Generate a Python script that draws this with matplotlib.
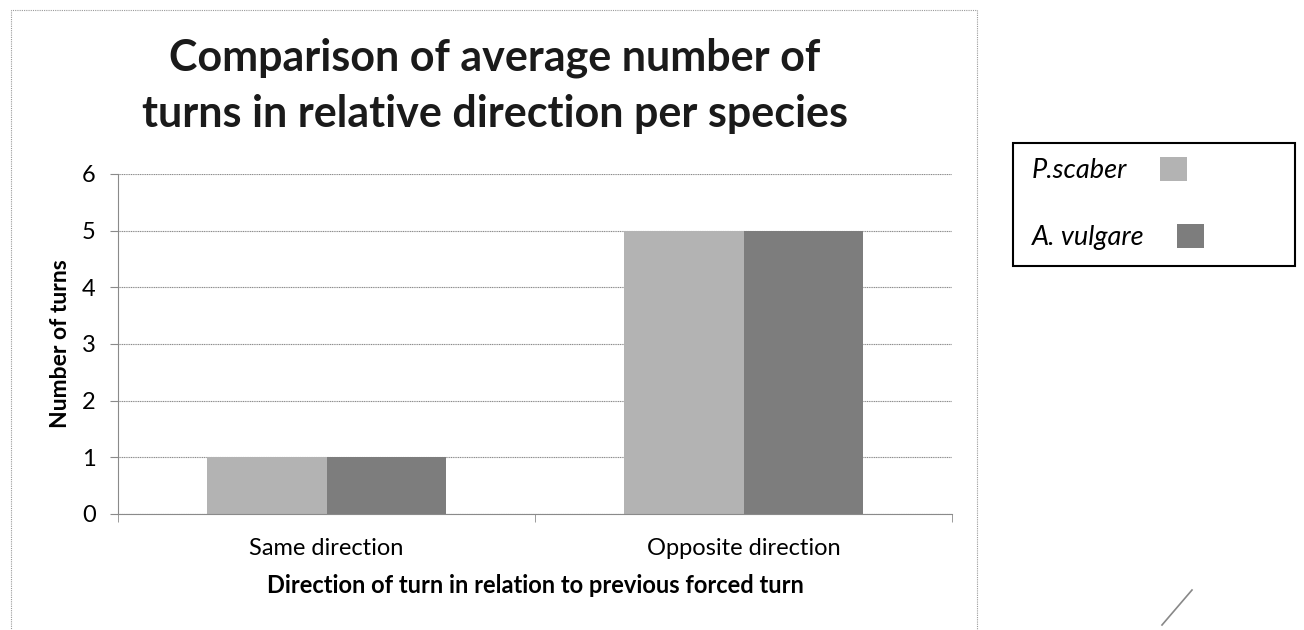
import numpy as np
import matplotlib.pyplot as plt
from matplotlib.patches import Rectangle
from matplotlib.lines import Line2D

categories = ["Same direction", "Opposite direction"]
species = ["P.scaber", "A. vulgare"]
p_scaber = [1, 5]
a_vulgare = [1, 5]
colors = ["#b3b3b3", "#7d7d7d"]

plt.rcParams['font.family'] = ['Lato', 'DejaVu Sans']

W, H = 1304, 630
fig = plt.figure(figsize=(W / 100, H / 100), dpi=100)
ax = fig.add_axes([118 / W, 1 - 514 / H, 834 / W, 340 / H])

x = np.arange(len(categories))
w = 0.286
ax.bar(x - w / 2, p_scaber, w, color=colors[0], label=species[0], zorder=2)
ax.bar(x + w / 2, a_vulgare, w, color=colors[1], label=species[1], zorder=2)

ax.set_xlim(-0.5, len(categories) - 0.5)
ax.set_ylim(0, 6)
ax.set_yticks(range(0, 7))
ax.yaxis.grid(True, color="#8a8a8a", linewidth=0.8, linestyle=(0, (1, 0.6)), zorder=0)
ax.set_xticks(x)
ax.set_xticklabels(categories, fontsize=17)
ax.tick_params(axis='x', length=0, pad=17)
ax.set_xticks(np.arange(-0.5, len(categories)), minor=True)
ax.tick_params(axis='x', which='minor', length=6, color="#8a8a8a")
ax.tick_params(axis='y', labelsize=17, length=6, color="#8a8a8a", pad=10)
for s in ['top', 'right']:
    ax.spines[s].set_visible(False)
for s in ['left', 'bottom']:
    ax.spines[s].set_color("#8a8a8a")
    ax.spines[s].set_linewidth(0.8)

ax.set_xlabel("Direction of turn in relation to previous forced turn",
              fontsize=17, fontweight='bold', labelpad=11)
ax.set_ylabel("Number of turns", fontsize=16.5, fontweight='bold', labelpad=8)

# va='baseline' puts the last line's baseline at y
fig.text(495 / W, 1 - 127 / H,
         "Comparison of average number of\nturns in relative direction per species",
         ha='center', va='baseline', fontsize=31, fontweight='bold',
         linespacing=1.49, color="#1a1a1a")

# legend: series names with their swatches, inside a plain black box
leg = fig.legend(loc='upper left', bbox_to_anchor=(1032 / W, 1 - 157 / H),
                 markerfirst=False, prop={'style': 'italic', 'size': 19.5},
                 handlelength=1.0, handleheight=1.0, labelspacing=1.5,
                 borderpad=0, borderaxespad=0, handletextpad=1.2, frameon=False)
for col in leg._legend_handle_box.get_children():
    col.align = 'left'
fig.patches.append(Rectangle((1013 / W, 1 - 266 / H), 282 / W, 123 / H,
                             transform=fig.transFigure, fill=False,
                             edgecolor='black', linewidth=1.5))

# dotted chart border
fig.patches.append(Rectangle((11 / W, -0.02), 966 / W, 1.0 - 10 / H + 0.02,
                             transform=fig.transFigure, fill=False,
                             edgecolor="#9a9a9a", linewidth=0.8,
                             linestyle=(0, (1, 1))))
fig.lines.append(Line2D([1162 / W, 1192 / W], [1 - 625 / H, 1 - 590 / H],
                        transform=fig.transFigure, color="#888888", linewidth=1.2))

fig.savefig("out.png", dpi=100)
